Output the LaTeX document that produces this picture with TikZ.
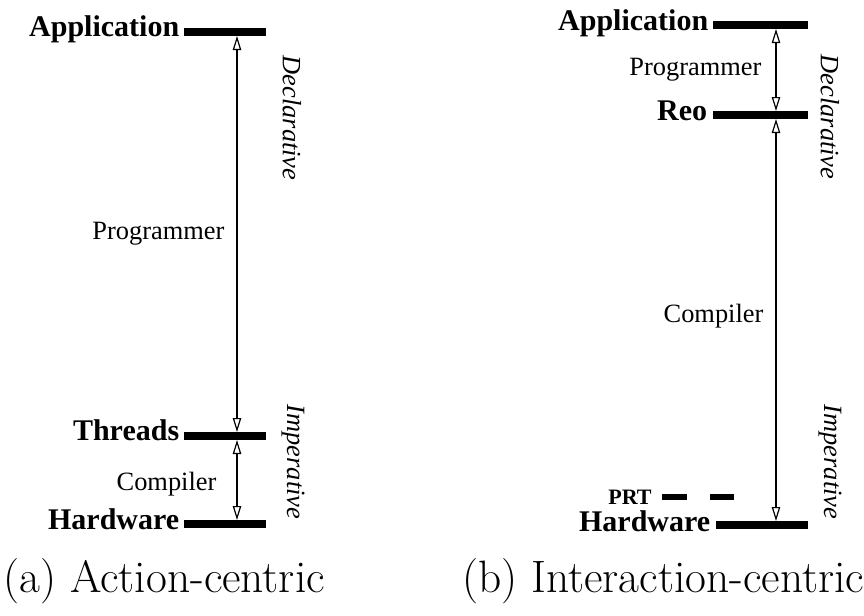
\documentclass[tikz,border=0pt]{standalone}
\usepackage{fontspec}
\newfontfamily\timesfont{Liberation Serif}
\usetikzlibrary{arrows.meta, positioning}

\begin{document}
\begin{tikzpicture}[
    x=0.5pt, y=-0.5pt,
    bar/.style={rectangle, fill=black, inner sep=0pt, minimum height=3.6pt, minimum width=#1},
    level/.style={font=\timesfont\bfseries\fontsize{15}{18}\selectfont, inner sep=0pt, anchor=base east},
    role/.style={font=\timesfont\fontsize{13.2}{16}\selectfont, inner sep=0pt},
    mode/.style={font=\timesfont\itshape\fontsize{13.2}{16}\selectfont, rotate=-90, inner sep=0pt},
    caption/.style={font=\fontsize{22.7}{26}\selectfont, inner sep=0pt, anchor=base west},
    dimarrow/.style={{Triangle[open, length=7pt, width=4.2pt]}-{Triangle[open, length=7pt, width=4.2pt]}, line width=0.6pt},
    prtline/.style={line width=3pt, dash pattern=on 12.5pt off 11.5pt},
]
\useasboundingbox (0,0) rectangle (864,616);

% (a) Action-centric
\node[bar=41pt] (appA) at (225,32) {};
\node[bar=41pt] (thrA) at (225,436) {};
\node[bar=41pt] (hwA) at (225,524) {};

\node[level] (appAl) at ([xshift=-2pt, yshift=-2pt]appA.west) {Application};
\node[level] (thrAl) at ([xshift=-2pt, yshift=-2pt]thrA.west) {Threads};
\node[level] (hwAl) at ([xshift=-2pt, yshift=-2.5pt]hwA.west) {Hardware};

\coordinate (axA) at (237,0);
\draw[dimarrow] (appA.south -| axA) -- node[role, midway, left=6pt] (progA) {Programmer} (thrA.north -| axA);
\draw[dimarrow] (thrA.south -| axA) -- node[role, midway, left=10pt, yshift=-2pt] (compA) {Compiler} (hwA.north -| axA);

\node[mode] (declA) at (292,118) {Declarative};
\node[mode] (impA) at (293,462) {Imperative};

\node[caption] (capA) at (3,592) {(a) Action-centric};

% (b) Interaction-centric
\node[bar=47.5pt] (appB) at (760.5,25) {};
\node[bar=47.5pt] (reoB) at (760.5,115) {};
\node[bar=46pt] (hwB) at (762,525) {};

\node[level] (appBl) at ([xshift=-2pt, yshift=-2.5pt]appB.west) {Application};
\node[level] (reoBl) at ([xshift=-2.5pt, yshift=-2.5pt]reoB.west) {Reo};
\node[level] (hwBl) at ([xshift=-2.5pt, yshift=-3pt]hwB.west) {Hardware};

\coordinate (axB) at (776,0);
\draw[dimarrow] (appB.south -| axB) -- node[role, midway, left=7pt] (progB) {Programmer} (reoB.north -| axB);
\draw[dimarrow] (reoB.south -| axB) -- node[role, midway, left=6pt, yshift=2pt] (compB) {Compiler} (hwB.north -| axB);

\coordinate (prtL) at (662,497);
\coordinate (prtR) at (734,497);
\draw[prtline] (prtL) -- (prtR);
\node[level, font=\timesfont\bfseries\fontsize{11}{13}\selectfont] (prt) at ([xshift=-5pt, yshift=-3.5pt]prtL) {PRT};

\node[mode] (declB) at (830,117) {Declarative};
\node[mode] (impB) at (830,462) {Imperative};

\node[caption] (capB) at (462,592) {(b) Interaction-centric};
\end{tikzpicture}
\end{document}
